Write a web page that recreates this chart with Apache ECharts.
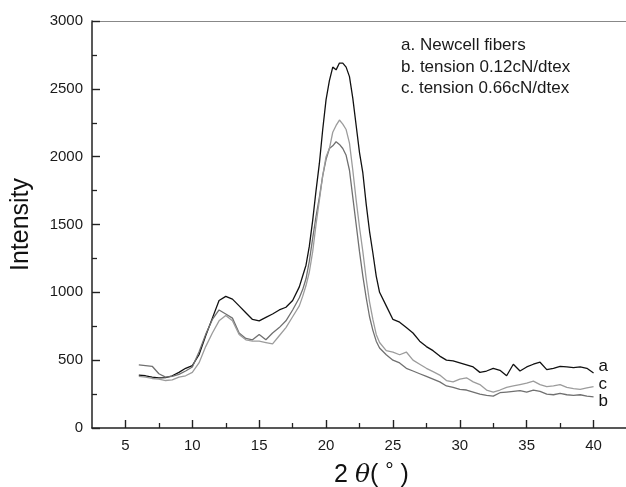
<!DOCTYPE html>
<html>
<head>
<meta charset="utf-8">
<script src="https://cdn.jsdelivr.net/npm/echarts@6/dist/echarts.min.js"></script>
<style>
  html, body { margin: 0; padding: 0; background: #fff; }
  #main { width: 626px; height: 487px; }
</style>
</head>
<body>
<div id="main"></div>
<script>
// 2θ positions (denser around the main peak)
const twoTheta = [
  6, 6.5, 7, 7.5, 8, 8.5, 9, 9.5, 10, 10.5, 11, 11.5, 12, 12.5, 13, 13.5, 14, 14.5, 15, 15.5, 16, 16.5, 17, 17.5, 18,
  18.25, 18.5, 18.75, 19, 19.25, 19.5, 19.75, 20, 20.25, 20.5, 20.75, 21, 21.25, 21.5, 21.75, 22, 22.25, 22.5, 22.75, 23, 23.25, 23.5, 23.75, 24,
  24.5, 25, 25.5, 26, 26.5, 27, 27.5, 28, 28.5, 29, 29.5, 30, 30.5, 31, 31.5, 32, 32.5, 33, 33.5, 34, 34.5, 35, 35.5, 36, 36.5, 37, 37.5, 38, 38.5, 39, 39.5, 40
]

// a. Newcell fibers
const seriesA = [
  390, 385, 375, 370, 372, 385, 410, 440, 460, 540, 680, 810, 940, 970, 950, 900, 850, 800, 790, 815, 840, 870, 890, 940, 1040,
  1120, 1200, 1340, 1530, 1750, 1950, 2200, 2420, 2560, 2660, 2640, 2690, 2690, 2660, 2590, 2430, 2230, 2030, 1880, 1650, 1450, 1290, 1120, 1000,
  900, 800, 780, 740, 700, 640, 600, 570, 530, 500, 495, 480, 465, 450, 410, 420, 440, 425, 385, 470, 420, 450, 470, 485, 430, 440, 455, 450, 445, 450, 440, 405
]

// b. tension 0.12cN/dtex
const seriesB = [
  465, 460, 455, 400, 375, 380, 395, 420, 450, 560, 690, 800, 870, 840, 810, 700, 660, 650, 690, 650, 700, 740, 790, 870, 960,
  1020, 1100, 1230, 1400, 1560, 1700, 1860, 1980, 2060, 2080, 2110, 2090, 2060, 2010, 1900, 1700, 1500, 1300, 1120, 960, 820, 720, 640, 590,
  540, 500, 480, 440, 420, 400, 380, 360, 340, 310, 300, 285, 280, 265, 250, 240, 235, 260, 265, 270, 275, 265, 280, 270, 250, 245, 255, 245, 240, 245, 235, 230
]

// c. tension 0.66cN/dtex
const seriesC = [
  380, 375, 365, 360, 350, 355, 375, 385, 410, 480, 600, 700, 790, 830, 790, 690, 650, 640, 640, 630, 620, 680, 740, 820, 900,
  970, 1050, 1150, 1300, 1500, 1680, 1860, 2000, 2060, 2180, 2230, 2270, 2240, 2200, 2100, 1900, 1680, 1480, 1300, 1100, 930, 800, 690, 630,
  570, 560, 540, 560, 500, 470, 440, 415, 390, 350, 340, 360, 370, 340, 320, 280, 265, 280, 300, 310, 320, 330, 345, 320, 305, 310, 320, 300, 290, 285, 295, 305
]

const majorX = [5, 10, 15, 20, 25, 30, 35, 40]
const minorX = [7.5, 12.5, 17.5, 22.5, 27.5, 32.5, 37.5]
const legendLines = ['a. Newcell fibers', 'b. tension 0.12cN/dtex', 'c. tension 0.66cN/dtex']

const FONT = 'Liberation Sans, Arial, sans-serif'
const axisColor = '#222'

const pairs = (ys) => twoTheta.map((x, i) => [x, ys[i]])

const chart = echarts.init(document.getElementById('main'))

const lineSeries = [
  { name: 'a', data: pairs(seriesA), color: '#111', end: 'a', off: [0, -7] },
  { name: 'b', data: pairs(seriesB), color: '#707070', end: 'b', off: [0, 5] },
  { name: 'c', data: pairs(seriesC), color: '#9c9c9c', end: 'c', off: [0, -2] },
].map(o => ({
  type: 'line',
  name: o.name,
  data: o.data,
  showSymbol: false,
  symbol: 'none',
  silent: true,
  lineStyle: { color: o.color, width: 1.3 },
  endLabel: {
    show: true,
    formatter: o.end,
    offset: o.off,
    distance: 5,
    color: '#111',
    fontSize: 17,
    fontFamily: FONT
  }
}))

chart.setOption({
  animation: false,
  backgroundColor: '#fff',
  grid: { left: 92, right: -1, top: 21, bottom: 59, containLabel: false, outerBoundsMode: 'none' },
  xAxis: [
    {
      type: 'value',
      min: 2.5,
      max: 42.5,
      position: 'bottom',
      splitLine: { show: false },
      axisLine: { show: true, lineStyle: { color: axisColor, width: 1.5 } },
      axisTick: { show: true, inside: true, length: 8, customValues: majorX, lineStyle: { color: axisColor, width: 1.4 } },
      axisLabel: { customValues: majorX, color: '#1a1a1a', fontSize: 15, fontFamily: FONT, margin: 10 },
      name: '2 {i|θ}( {d|°} )',
      nameLocation: 'middle',
      nameGap: 33,
      nameTextStyle: {
        color: '#111', fontSize: 25, fontFamily: FONT,
        padding: [0, 0, 0, 24],
        rich: {
          i: { fontStyle: 'italic', fontSize: 25, fontFamily: 'DejaVu Serif, serif', color: '#111' },
          d: { fontSize: 21, fontFamily: FONT, color: '#111', verticalAlign: 'top', padding: [0, 0, 8, 0] }
        }
      }
    },
    {
      type: 'value',
      min: 2.5,
      max: 42.5,
      position: 'bottom',
      splitLine: { show: false },
      axisLine: { show: false },
      axisTick: { show: true, inside: true, length: 5, customValues: minorX, lineStyle: { color: axisColor, width: 1.3 } },
      axisLabel: { show: false }
    },
    {
      type: 'value',
      min: 2.5,
      max: 42.5,
      position: 'top',
      splitLine: { show: false },
      axisLine: { show: true, lineStyle: { color: '#888', width: 1.2 } },
      axisTick: { show: false },
      axisLabel: { show: false }
    }
  ],
  yAxis: {
    type: 'value',
    min: 0,
    max: 3000,
    interval: 500,
    splitLine: { show: false },
    axisLine: { show: true, lineStyle: { color: axisColor, width: 1.5 } },
    axisTick: { show: true, inside: true, length: 8, lineStyle: { color: axisColor, width: 1.4 } },
    minorTick: { show: true, splitNumber: 2, length: 5, lineStyle: { color: axisColor, width: 1.3 } },
    axisLabel: { color: '#1a1a1a', fontSize: 15, fontFamily: FONT, margin: 9, formatter: (v) => String(v) },
    name: 'Intensity',
    nameLocation: 'middle',
    nameGap: 58,
    nameTextStyle: { color: '#111', fontSize: 25, fontFamily: FONT }
  },
  graphic: [
    {
      type: 'text',
      left: 401,
      top: 35,
      silent: true,
      style: {
        text: legendLines.join('\n'),
        fill: '#1a1a1a',
        font: '17px ' + FONT,
        lineHeight: 21.5
      }
    }
  ],
  series: lineSeries
})
</script>
</body>
</html>
